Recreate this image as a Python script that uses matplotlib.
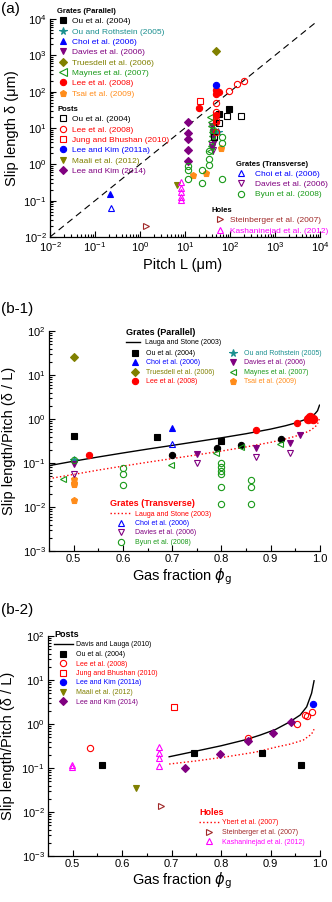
import numpy as np
import matplotlib.pyplot as plt
from matplotlib.lines import Line2D
from matplotlib.ticker import LogLocator, NullFormatter, MultipleLocator, LogFormatterSciNotation

plt.rcParams.update({
    "font.family": "Liberation Sans",
    "axes.unicode_minus": False,
    "mathtext.fontset": "dejavusans",
    "axes.linewidth": 0.9,
})

BLACK = "black"
TEAL = "#1a8f8f"
BLUE = "#0000ff"
PURPLE = "#800080"
OLIVE = "#808000"
GREEN = "#1a9a1a"
RED = "#ff0000"
ORANGE = "#ff8c1a"
BROWN = "#a02828"
MAGENTA = "#ff00ff"

# ---------------- (a) slip length vs pitch ----------------
# grates (parallel)
ou04_par_L = [58, 97]
ou04_par_d = [25, 34]
ou05_L = [55]
ou05_d = [7.6]
choi_par_L = [0.22]
choi_par_d = [0.15]
davies_par_L = [40, 41, 42, 43, 40]
davies_par_d = [11, 8, 6, 4, 3]
truesdell_L = [48]
truesdell_d = [1350]
maynes_L = [36, 37, 38, 39, 40, 38, 37, 36]
maynes_d = [20, 15, 11, 8, 6, 4.5, 3.2, 2.4]
lee08_par_L = [20, 48, 52, 58, 50, 49, 48]
lee08_par_d = [35, 110, 95, 100, 85, 23, 15]
tsai_L = [15.3, 30, 62]
tsai_d = [0.51, 0.58, 2.8]
# posts
ou04_post_L = [43, 58, 85, 173]
ou04_post_d = [5.6, 13.5, 21, 22]
lee08_post_L = [48, 48, 48, 48, 97, 145, 200]
lee08_post_d = [8, 17, 28, 50, 107, 163, 200]
jung_L = [22]
jung_d = [57]
leekim11_L = [48]
leekim11_d = [148]
maali_L = [6.8]
maali_d = [0.27]
leekim14_L = [11.5, 11.5, 11.5, 11.5, 11.5]
leekim14_d = [14.5, 7.5, 5, 2.5, 1.2]
# grates (transverse)
choi_tr_L = [0.227]
choi_tr_d = [0.063]
davies_tr_L = [40, 42]
davies_tr_d = [3.5, 2.5]
byun_L = [11.9, 11.9, 11.9, 23.4, 23.9, 35, 35, 35, 65, 65, 66, 42]
byun_d = [0.91, 0.71, 0.40, 0.71, 0.31, 2.3, 1.4, 0.98, 5.6, 3.8, 0.40, 9]
# holes
stein_L = [1.34]
stein_d = [0.02]
kash_L = [8.3, 8.3, 8.3, 8.3, 8.3]
kash_d = [0.32, 0.22, 0.17, 0.13, 0.107]
diag = [1e-2, 8e3]

# ---------------- (b-1) grates ----------------
ls_phi = [0.45, 0.5, 0.55, 0.6, 0.65, 0.7, 0.75, 0.8, 0.85, 0.9, 0.93, 0.95, 0.97, 0.98, 0.99, 0.995, 0.999]
ls_par = [0.087, 0.11, 0.137, 0.169, 0.207, 0.251, 0.306, 0.374, 0.463, 0.59, 0.703, 0.81, 0.973, 1.10, 1.32, 1.54, 2.06]
ls_tr = [0.044, 0.055, 0.069, 0.085, 0.104, 0.126, 0.153, 0.187, 0.232, 0.295, 0.352, 0.405, 0.487, 0.55, 0.66, 0.77, 1.03]

b1_ou04_phi = [0.50, 0.67, 0.80]
b1_ou04_r = [0.41, 0.39, 0.32]
b1_ou04c_phi = [0.70, 0.79, 0.84, 0.92]
b1_ou04c_r = [0.15, 0.22, 0.26, 0.36]
b1_ou05_phi = [0.50]
b1_ou05_r = [0.12]
b1_choi_phi = [0.70]
b1_choi_r = [0.63]
b1_davies_phi = [0.50, 0.75, 0.87, 0.94, 0.96]
b1_davies_r = [0.094, 0.158, 0.215, 0.28, 0.43]
b1_truesdell_phi = [0.50]
b1_truesdell_r = [26]
b1_maynes_phi = [0.478, 0.697, 0.789, 0.84, 0.919]
b1_maynes_r = [0.043, 0.09, 0.166, 0.235, 0.265]
b1_lee_phi = [0.531, 0.87, 0.953]
b1_lee_r = [0.15, 0.56, 0.83]
b1_lee_big_phi = [0.975, 0.98, 0.985]
b1_lee_big_r = [1.0, 1.1, 1.0]
b1_tsai_phi = [0.50, 0.50, 0.50, 0.50]
b1_tsai_r = [0.043, 0.036, 0.033, 0.0148]
b1_choi_tr_phi = [0.70]
b1_choi_tr_r = [0.27]
b1_davies_tr_phi = [0.50, 0.75, 0.87, 0.939]
b1_davies_tr_r = [0.057, 0.098, 0.136, 0.166]
b1_byun_phi = [0.50, 0.60, 0.60, 0.60, 0.80, 0.80, 0.80, 0.80, 0.80, 0.80, 0.86, 0.86, 0.86]
b1_byun_r = [0.115, 0.075, 0.056, 0.032, 0.10, 0.081, 0.066, 0.056, 0.028, 0.0115, 0.041, 0.028, 0.0115]

# ---------------- (b-2) posts and holes ----------------
dl_phi = [0.695, 0.744, 0.80, 0.85, 0.879, 0.91, 0.939, 0.96, 0.973, 0.983, 0.988]
dl_r = [0.18, 0.235, 0.32, 0.44, 0.56, 0.75, 1.12, 1.6, 2.45, 5.0, 9.6]
yb_phi = [0.695, 0.75, 0.811, 0.87, 0.912, 0.94, 0.966, 0.983, 0.988]
yb_r = [0.123, 0.145, 0.18, 0.23, 0.30, 0.35, 0.43, 0.59, 0.76]

b2_ou04_phi = [0.56, 0.745, 0.882, 0.961]
b2_ou04_r = [0.117, 0.215, 0.215, 0.117]
b2_lee08_phi = [0.534, 0.855, 0.954, 0.970, 0.973, 0.983]
b2_lee08_r = [0.29, 0.47, 1.0, 1.6, 1.52, 1.9]
b2_jung_phi = [0.705]
b2_jung_r = [2.4]
b2_leekim11_phi = [0.985]
b2_leekim11_r = [2.8]
b2_maali_phi = [0.628]
b2_maali_r = [0.035]
b2_leekim14_phi = [0.727, 0.798, 0.855, 0.904, 0.941]
b2_leekim14_r = [0.10, 0.21, 0.42, 0.61, 1.12]
b2_stein_phi = [0.678]
b2_stein_r = [0.014]
b2_kash_phi = [0.498, 0.498, 0.675, 0.675, 0.675, 0.675]
b2_kash_r = [0.117, 0.107, 0.30, 0.215, 0.17, 0.11]

W, H = 332, 902
fig = plt.figure(figsize=(W / 100, H / 100), dpi=100)


def px_axes(l, t, r, b):
    return fig.add_axes([l / W, 1 - b / H, (r - l) / W, (b - t) / H])


def style(ax):
    ax.spines[["top", "right"]].set_visible(False)
    ax.tick_params(which="both", direction="in", labelsize=8, pad=2.5, width=0.8)
    ax.tick_params(which="major", length=4)
    ax.tick_params(which="minor", length=2)


def log_axis(axis):
    axis.set_major_locator(LogLocator(base=10, numticks=20))
    axis.set_minor_locator(LogLocator(base=10, subs=np.arange(2, 10), numticks=20))
    axis.set_minor_formatter(NullFormatter())
    axis.set_major_formatter(LogFormatterSciNotation())


def pts(ax, x, y, marker, color, ms=4.5, filled=True, **kw):
    ax.plot(x, y, linestyle="none", marker=marker, ms=ms, color=color,
            mfc=color if filled else "none", mec=color, mew=0.8, **kw)


def handle(marker, color, filled=True, ms=4.5):
    return Line2D([], [], linestyle="none", marker=marker, ms=ms, color=color,
                  mfc=color if filled else "none", mec=color, mew=0.8)


def legend(entries, x, y, title=None, title_color=BLACK, fs=6, tfs=5.5,
           hl=1.4, htp=0.4, ls=0.3):
    hs = [e[0] for e in entries]
    labs = [e[1] for e in entries]
    cols = [e[2] for e in entries]
    lg = fig.legend(hs, labs, loc="upper left", bbox_to_anchor=(x / W, 1 - y / H),
                    frameon=False, borderpad=0, borderaxespad=0, fontsize=fs,
                    handlelength=hl, handletextpad=htp, labelspacing=ls,
                    labelcolor=cols, title=title, alignment="left",
                    title_fontproperties={"weight": "bold", "size": tfs})
    if title:
        lg.get_title().set_color(title_color)
    return lg


# ===== panel (a) =====
ax = px_axes(50, 19, 320, 237)
style(ax)
ax.set_xscale("log")
ax.set_yscale("log")
ax.set_xlim(1e-2, 1e4)
ax.set_ylim(1e-2, 1e4)
log_axis(ax.xaxis)
log_axis(ax.yaxis)
ax.plot(diag, diag, color=BLACK, lw=0.8, dashes=(6, 4))

pts(ax, ou04_par_L, ou04_par_d, "s", BLACK)
pts(ax, ou05_L, ou05_d, "*", TEAL, ms=5.5)
pts(ax, choi_par_L, choi_par_d, "^", BLUE)
pts(ax, davies_par_L, davies_par_d, "v", PURPLE)
pts(ax, truesdell_L, truesdell_d, "D", OLIVE, ms=4)
pts(ax, maynes_L, maynes_d, "<", GREEN, filled=False)
pts(ax, lee08_par_L, lee08_par_d, "o", RED)
pts(ax, tsai_L, tsai_d, "p", ORANGE, ms=5)
pts(ax, ou04_post_L, ou04_post_d, "s", BLACK, filled=False)
pts(ax, lee08_post_L, lee08_post_d, "o", RED, filled=False)
pts(ax, jung_L, jung_d, "s", RED, filled=False)
pts(ax, leekim11_L, leekim11_d, "o", BLUE)
pts(ax, maali_L, maali_d, "v", OLIVE)
pts(ax, leekim14_L, leekim14_d, "D", PURPLE, ms=4)
pts(ax, choi_tr_L, choi_tr_d, "^", BLUE, filled=False)
pts(ax, davies_tr_L, davies_tr_d, "v", PURPLE, filled=False)
pts(ax, byun_L, byun_d, "o", GREEN, filled=False)
pts(ax, stein_L, stein_d, ">", BROWN, filled=False)
pts(ax, kash_L, kash_d, "^", MAGENTA, filled=False)

ax.set_xlabel("Pitch L (\u03bcm)", fontsize=10.5)
ax.xaxis.set_label_coords(0.49, -0.095)
ax.set_ylabel("Slip length \u03b4 (\u03bcm)", fontsize=10.5)
ax.yaxis.set_label_coords(-0.115, 0.5)

legend([(handle("s", BLACK), "Ou et al. (2004)", BLACK),
        (handle("*", TEAL, ms=5.5), "Ou and Rothstein (2005)", TEAL),
        (handle("^", BLUE), "Choi et al. (2006)", BLUE),
        (handle("v", PURPLE), "Davies et al. (2006)", PURPLE),
        (handle("D", OLIVE, ms=4), "Truesdell et al. (2006)", OLIVE),
        (handle("<", GREEN, False, ms=5.5), "Maynes et al. (2007)", GREEN),
        (handle("o", RED), "Lee et al. (2008)", RED),
        (handle("p", ORANGE, ms=5), "Tsai et al. (2009)", ORANGE)],
       57, 8, title="Grates (Parallel)")
legend([(handle("s", BLACK, False), "Ou et al. (2004)", BLACK),
        (handle("o", RED, False), "Lee et al. (2008)", RED),
        (handle("s", RED, False), "Jung and Bhushan (2010)", RED),
        (handle("o", BLUE), "Lee and Kim (2011a)", BLUE),
        (handle("v", OLIVE), "Maali et al. (2012)", OLIVE),
        (handle("D", PURPLE, ms=4), "Lee and Kim (2014)", PURPLE)],
       57, 106, title="Posts")
legend([(handle("^", BLUE, False), "Choi et al. (2006)", BLUE),
        (handle("v", PURPLE, False), "Davies et al. (2006)", PURPLE),
        (handle("o", GREEN, False), "Byun et al. (2008)", GREEN)],
       236, 160.5, title="Grates (Transverse)", hl=1.2, htp=1.1)
legend([(handle(">", BROWN, False), "Steinberger et al. (2007)", BROWN),
        (handle("^", MAGENTA, False), "Kashaninejad et al. (2012)", MAGENTA)],
       212, 207, title="Holes", hl=2.0, htp=0.2)

fig.text(1 / W, 1 - 9 / H, "(a)", fontsize=11, va="center")

# ===== panel (b-1) =====
ax = px_axes(49, 331, 320, 551)
style(ax)
ax.set_yscale("log")
ax.set_xlim(0.45, 1.0)
ax.set_ylim(1e-3, 1e2)
log_axis(ax.yaxis)
ax.xaxis.set_major_locator(MultipleLocator(0.1))
ax.xaxis.set_minor_locator(MultipleLocator(0.05))

ax.plot(ls_phi, ls_par, color=BLACK, lw=1.0)
ax.plot(ls_phi, ls_tr, color=RED, lw=1.0, linestyle=":")
pts(ax, b1_ou04_phi, b1_ou04_r, "s", BLACK)
pts(ax, b1_ou04c_phi, b1_ou04c_r, "o", BLACK)
pts(ax, b1_ou05_phi, b1_ou05_r, "*", TEAL, ms=5.5)
pts(ax, b1_choi_phi, b1_choi_r, "^", BLUE)
pts(ax, b1_davies_phi, b1_davies_r, "v", PURPLE)
pts(ax, b1_truesdell_phi, b1_truesdell_r, "D", OLIVE, ms=4)
pts(ax, b1_maynes_phi, b1_maynes_r, "<", GREEN, filled=False)
pts(ax, b1_lee_phi, b1_lee_r, "o", RED)
pts(ax, b1_lee_big_phi, b1_lee_big_r, "o", RED, ms=6)
pts(ax, b1_tsai_phi, b1_tsai_r, "p", ORANGE, ms=5)
pts(ax, b1_choi_tr_phi, b1_choi_tr_r, "^", BLUE, filled=False)
pts(ax, b1_davies_tr_phi, b1_davies_tr_r, "v", PURPLE, filled=False)
pts(ax, b1_byun_phi, b1_byun_r, "o", GREEN, filled=False)

ax.set_xlabel("Gas fraction $\\phi_\\mathrm{g}$", fontsize=10.5)
ax.xaxis.set_label_coords(0.49, -0.07)
ax.set_ylabel("Slip length/Pitch (\u03b4 / L)", fontsize=10.5)
ax.yaxis.set_label_coords(-0.12, 0.5)

legend([(Line2D([], [], color=BLACK, lw=1.0), "Lauga and Stone (2003)", BLACK)],
       126, 328, title="Grates (Parallel)", fs=5, tfs=6.5, hl=2.0, htp=0.8, ls=0.36)
legend([(handle("s", BLACK), "Ou et al. (2004)", BLACK),
        (handle("^", BLUE), "Choi et al. (2006)", BLUE),
        (handle("D", OLIVE, ms=4), "Truesdell et al. (2006)", OLIVE),
        (handle("o", RED), "Lee et al. (2008)", RED)],
       128, 350, fs=5, hl=2.0, htp=0.6, ls=0.36)
legend([(handle("*", TEAL, ms=5.5), "Ou and Rothstein (2005)", TEAL),
        (handle("v", PURPLE), "Davies et al. (2006)", PURPLE),
        (handle("<", GREEN, False), "Maynes et al. (2007)", GREEN),
        (handle("p", ORANGE, ms=5), "Tsai et al. (2009)", ORANGE)],
       226, 350, fs=5, hl=2.0, htp=0.6, ls=0.36)
legend([(Line2D([], [], color=RED, lw=1.0, linestyle=":"), "Lauga and Stone (2003)", RED),
        (handle("^", BLUE, False), "Choi et al. (2006)", BLUE),
        (handle("v", PURPLE, False), "Davies et al. (2006)", PURPLE),
        (handle("o", GREEN, False), "Byun et al. (2008)", GREEN)],
       110, 499, title="Grates (Transverse)", title_color=RED, fs=5, tfs=6.5,
       hl=3.2, htp=0.45, ls=0.36)

fig.text(1 / W, 1 - 309 / H, "(b-1)", fontsize=11, va="center")

# ===== panel (b-2) =====
ax = px_axes(48, 636, 320, 856)
style(ax)
ax.set_yscale("log")
ax.set_xlim(0.45, 1.0)
ax.set_ylim(1e-3, 1e2)
log_axis(ax.yaxis)
ax.xaxis.set_major_locator(MultipleLocator(0.1))
ax.xaxis.set_minor_locator(MultipleLocator(0.05))

ax.plot(dl_phi, dl_r, color=BLACK, lw=1.0)
ax.plot(yb_phi, yb_r, color=RED, lw=1.0, linestyle=":")
pts(ax, b2_ou04_phi, b2_ou04_r, "s", BLACK)
pts(ax, b2_lee08_phi, b2_lee08_r, "o", RED, filled=False)
pts(ax, b2_jung_phi, b2_jung_r, "s", RED, filled=False)
pts(ax, b2_leekim11_phi, b2_leekim11_r, "o", BLUE)
pts(ax, b2_maali_phi, b2_maali_r, "v", OLIVE)
pts(ax, b2_leekim14_phi, b2_leekim14_r, "D", PURPLE, ms=4)
pts(ax, b2_stein_phi, b2_stein_r, ">", BROWN, filled=False)
pts(ax, b2_kash_phi, b2_kash_r, "^", MAGENTA, filled=False)

ax.set_xlabel("Gas fraction $\\phi_\\mathrm{g}$", fontsize=10.5)
ax.xaxis.set_label_coords(0.494, -0.064)
ax.set_ylabel("Slip length/Pitch (\u03b4 / L)", fontsize=10.5)
ax.yaxis.set_label_coords(-0.12, 0.5)

legend([(Line2D([], [], color=BLACK, lw=1.0), "Davis and Lauga (2010)", BLACK),
        (handle("s", BLACK), "Ou et al. (2004)", BLACK),
        (handle("o", RED, False), "Lee et al. (2008)", RED),
        (handle("s", RED, False), "Jung and Bhushan (2010)", RED),
        (handle("o", BLUE), "Lee and Kim (2011a)", BLUE),
        (handle("v", OLIVE), "Maali et al. (2012)", OLIVE),
        (handle("D", PURPLE, ms=4), "Lee and Kim (2014)", PURPLE)],
       54, 630, title="Posts", fs=5, tfs=6.5, hl=2.7, htp=0.45, ls=0.36)
legend([(Line2D([], [], color=RED, lw=1.0, linestyle=":"), "Ybert et al. (2007)", RED),
        (handle(">", BROWN, False), "Steinberger et al. (2007)", BROWN),
        (handle("^", MAGENTA, False), "Kashaninejad et al. (2012)", MAGENTA)],
       199, 808, title="Holes", title_color=RED, fs=5, tfs=6.5, hl=3.0, htp=0.3, ls=0.36)

fig.text(1 / W, 1 - 610 / H, "(b-2)", fontsize=11, va="center")

fig.savefig("out.png", dpi=100, facecolor="white")
